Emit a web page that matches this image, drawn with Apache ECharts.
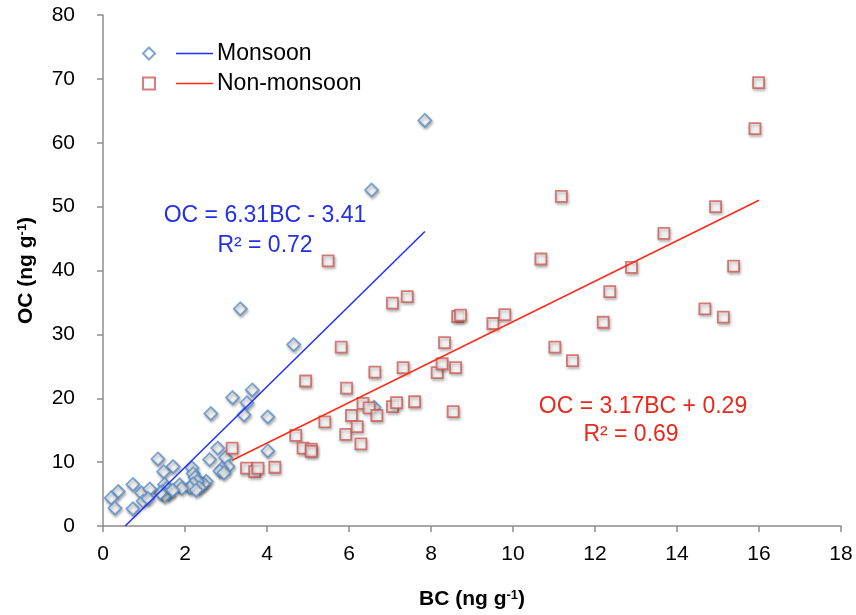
<!DOCTYPE html>
<html>
<head>
<meta charset="utf-8">
<script src="https://cdn.jsdelivr.net/npm/echarts@6/dist/echarts.min.js"></script>
<style>html,body{margin:0;padding:0;background:#fff;}#chart{width:856px;height:615px;}</style>
</head>
<body>
<div id="chart"></div>
<script>
// Monsoon samples (BC, OC)
const monsoonBC = [7.85,6.55,3.35,4.65,3.64,3.16,3.51,2.63,3.44,4.02,6.61,2.80,4.02,2.60,2.99,3.05,2.90,2.85,2.95,2.52,2.45,2.17,2.20,2.25,2.30,2.20,2.35,2.12,2.27,1.34,1.71,1.48,1.87,1.92,1.50,1.55,1.45,1.60,1.50,1.40,0.73,0.37,0.20,0.29,0.94,1.14,0.73,0.98,1.10,1.70];
const monsoonOC = [63.5,52.6,34.0,28.4,21.3,20.1,19.3,17.6,17.4,17.1,18.6,12.2,11.75,10.4,10.7,9.3,9.0,8.6,8.3,7.0,6.6,9.1,8.2,7.6,7.0,6.6,6.0,6.0,5.6,10.5,9.3,8.5,6.45,5.9,6.5,5.9,5.4,5.0,4.7,5.2,6.5,5.4,4.4,2.8,5.2,5.8,2.7,3.9,4.3,5.6];
// Non-monsoon samples (BC, OC)
const nonMonsoonBC = [3.15,3.50,3.70,3.78,4.19,4.70,4.88,5.08,5.08,5.41,5.49,4.94,5.81,5.92,5.94,6.06,6.20,6.29,6.34,6.49,6.63,6.68,7.06,7.16,7.06,7.42,7.32,7.60,8.15,8.27,8.33,8.54,8.60,8.65,8.72,9.51,9.80,10.68,11.02,11.18,11.45,12.20,12.36,12.89,13.68,14.68,14.94,15.13,15.38,15.90,15.99];
const nonMonsoonOC = [12.2,9.05,8.5,9.05,9.2,14.2,12.2,12.05,11.7,16.3,41.5,22.7,28.0,14.35,21.6,17.3,15.55,12.85,19.2,18.5,24.1,17.3,18.7,19.3,34.9,35.9,24.8,19.45,24.0,25.4,28.7,17.9,24.8,32.8,33.0,31.7,33.1,41.8,28.0,51.6,25.9,31.9,36.7,40.5,45.8,34.0,50.0,32.7,40.7,62.2,69.4];
// Trendline end points
const monsoonFitBC = [0.54, 7.85];
const monsoonFitOC = [0, 46.1];
const nonMonsoonFitBC = [3.15, 16.0];
const nonMonsoonFitOC = [10.3, 51.0];
// Axis ticks
const xTicks = [0,2,4,6,8,10,12,14,16,18];
const yTicks = [0,10,20,30,40,50,60,70,80];
// Text
const monsoonEq = ['OC = 6.31BC - 3.41', 'R² = 0.72'];
const nonMonsoonEq = ['OC = 3.17BC + 0.29', 'R² = 0.69'];

const zip = (a, b) => a.map((v, i) => [v, b[i]]);
const FONT = 'Liberation Sans, Arial, Helvetica, sans-serif';
const shadow = {shadowBlur: 3, shadowColor: 'rgba(0,0,0,0.35)', shadowOffsetX: 1, shadowOffsetY: 2};

const chart = echarts.init(document.getElementById('chart'), null, {renderer: 'canvas'});
chart.setOption({
  animation: false,
  backgroundColor: '#fff',
  textStyle: {fontFamily: FONT},
  grid: {left: 103, right: 15, top: 15, bottom: 87, containLabel: false},
  xAxis: {
    type: 'value', min: xTicks[0], max: xTicks[xTicks.length-1], interval: 2,
    name: 'BC (ng g{sup|-1})', nameLocation: 'middle', nameGap: 63,
    nameTextStyle: {fontFamily: FONT, fontSize: 21, fontWeight: 'bold', color: '#000',
      rich: {sup: {fontFamily: FONT, fontSize: 13, fontWeight: 'bold', color: '#000', verticalAlign: 'top', lineHeight: 12}}},
    axisLine: {lineStyle: {color: '#8c8c8c', width: 1.5}},
    axisTick: {show: true, inside: false, length: 6, lineStyle: {color: '#8c8c8c', width: 1.5}},
    axisLabel: {fontFamily: FONT, fontSize: 21, color: '#000', margin: 18},
    splitLine: {show: false}
  },
  yAxis: {
    type: 'value', min: yTicks[0], max: yTicks[yTicks.length-1], interval: 10,
    name: 'OC (ng g{sup|-1})', nameLocation: 'middle', nameGap: 66, nameRotate: 90,
    nameTextStyle: {fontFamily: FONT, fontSize: 21, fontWeight: 'bold', color: '#000',
      rich: {sup: {fontFamily: FONT, fontSize: 13, fontWeight: 'bold', color: '#000', verticalAlign: 'top', lineHeight: 12}}},
    axisLine: {show: true, lineStyle: {color: '#8c8c8c', width: 1.5}},
    axisTick: {show: true, inside: false, length: 6, lineStyle: {color: '#8c8c8c', width: 1.5}},
    axisLabel: {fontFamily: FONT, fontSize: 21, color: '#000', margin: 28},
    splitLine: {show: false}
  },
  legend: [
    {
      data: ['Monsoon', 'Non-monsoon'], orient: 'vertical', left: 137, top: 37,
      itemWidth: 12, itemHeight: 12, itemGap: 7, selectedMode: false,
      formatter: () => ' ',
      textStyle: {fontFamily: FONT, fontSize: 23}
    },
    {
      data: [{name: 'Monsoon fit', icon: 'rect'}, {name: 'Non-monsoon fit', icon: 'rect'}],
      orient: 'vertical', left: 171, top: 37,
      itemWidth: 37, itemHeight: 1.5, itemGap: 7, selectedMode: false,
      formatter: (n) => n.replace(' fit', ''),
      textStyle: {fontFamily: FONT, fontSize: 23, color: '#000', padding: [0,0,0,-1]}
    }
  ],
  series: [
    {
      name: 'Monsoon', type: 'scatter', symbol: 'diamond', symbolSize: 13,
      itemStyle: Object.assign({color: '#ffffff', borderColor: '#5b8ec7', borderWidth: 1.8}, shadow),
      data: zip(monsoonBC, monsoonOC), z: 3
    },
    {
      name: 'Non-monsoon', type: 'scatter', symbol: 'rect', symbolSize: 11,
      itemStyle: Object.assign({color: '#ffffff', borderColor: '#cd5c58', borderWidth: 1.8}, shadow),
      data: zip(nonMonsoonBC, nonMonsoonOC), z: 3
    },
    {
      name: 'Monsoon fit', type: 'line', showSymbol: false, symbol: 'none',
      lineStyle: {color: '#1f2dff', width: 1.5}, itemStyle: {color: '#1f2dff'},
      data: zip(monsoonFitBC, monsoonFitOC), z: 4
    },
    {
      name: 'Non-monsoon fit', type: 'line', showSymbol: false, symbol: 'none',
      lineStyle: {color: '#ff2a1a', width: 1.5}, itemStyle: {color: '#ff2a1a'},
      data: zip(nonMonsoonFitBC, nonMonsoonFitOC), z: 4
    }
  ],
  graphic: [
    {type: 'text', x: 265, y: 216, style: {text: monsoonEq[0], fill: '#2230e6', font: '23px ' + FONT, textAlign: 'center', textVerticalAlign: 'middle'}},
    {type: 'text', x: 265, y: 246, style: {text: monsoonEq[1], fill: '#2230e6', font: '23px ' + FONT, textAlign: 'center', textVerticalAlign: 'middle'}},
    {type: 'text', x: 643, y: 407, style: {text: nonMonsoonEq[0], fill: '#e8291c', font: '23px ' + FONT, textAlign: 'center', textVerticalAlign: 'middle'}},
    {type: 'text', x: 631, y: 435, style: {text: nonMonsoonEq[1], fill: '#e8291c', font: '23px ' + FONT, textAlign: 'center', textVerticalAlign: 'middle'}}
  ]
});
</script>
</body>
</html>
